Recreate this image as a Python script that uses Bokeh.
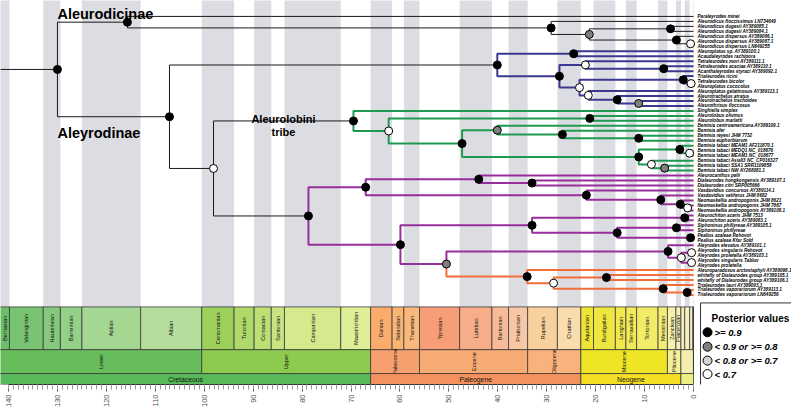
import math
from bokeh.plotting import figure
from bokeh.models import Range1d, FixedTicker, ColumnDataSource
from bokeh.core.properties import value
from bokeh.embed import file_html
from bokeh.resources import INLINE

# ---------------- data ----------------
tip_names = [
    "Paraleyrodes minei",
    "Aleurodicus floccissimus LN734649",
    "Aleurodicus dugesii AY389085.1",
    "Aleurodicus dugesii AY389084.1",
    "Aleurodicus dispersus AY389086.1",
    "Aleurodicus dispersus AY389087.1",
    "Aleurodicus dispersus LN649255",
    "Aleuroplatus sp. AY389100.1",
    "Acaudaleyrodes rachipora",
    "Tetraleurodes mori AY389111.1",
    "Tetraleurodes acaciae AY389110.1",
    "Acanthaleyrodes styraci AY389092.1",
    "Trialeurodes ricini",
    "Tetraleurodes bicolor",
    "Aleuroplatus cococolus",
    "Aleuroplatus gelatinosus AY389113.1",
    "Aleurotrachelus atratus",
    "Aleurotrachelus trachoides",
    "Aleurothrixus floccosus",
    "Singhiella simplex",
    "Aleurolobus olivinus",
    "Aleurolobus marlatti",
    "Bemisia centroamericana AY389109.1",
    "Bemisia afer",
    "Bemisia reyesi JHM 7732",
    "Bemisia euphorbiarum",
    "Bemisia tabaci MEAM1 AF211870.1",
    "Bemisia tabaci MEDQ1 NC_018676",
    "Bemisia tabaci MEAM1 NC_018677",
    "Bemisia tabaci AsiaII3 NC_CP016327",
    "Bemisia tabaci SSA1 SRR1109858",
    "Bemisia tabaci NW AY268081.1",
    "Aleurocanthus pelii",
    "Dialeurodes hongkongensis AY389107.1",
    "Dialeurodes citri SRP005666",
    "Vasdavidius concursus AY389114.1",
    "Vasdavidius setiferus JHM 8682",
    "Neomaskellia andropogonis JHM 8621",
    "Neomaskellia andropogonis JHM 7867",
    "Neomaskellia andropogonis AY389108.1",
    "Aleurochiton aceris JHM 7513",
    "Aleurochiton aceris AY389083.1",
    "Siphoninus phillyreae AY389105.1",
    "Siphoninus phillyreae",
    "Pealius azaleae Rehovot",
    "Pealius azaleae Kfar Sold",
    "Aleyrodes elevatus AY389101.1",
    "Aleyrodes singularis Rehovot",
    "Aleyrodes proletella AY389103.1",
    "Aleyrodes singularis Tabluv",
    "Aleyrodes proletella",
    "Aleuroparadoxus arctostaphyli AY389098.1",
    "whitefly of Dialeurodes group AY389105.1",
    "whitefly of Dialeurodes group AY389106.1",
    "Trialeurodes lauri AY389093.1",
    "Trialeurodes vaporariorum AY389113.1",
    "Trialeurodes vaporariorum LN649256",
]

# internal nodes: id, children (tip index or node id), age (Ma), posterior class
node_ids = ["root", "Aleurodicinae", "B", "C", "D", "E", "F",
            "Aleyrodinae", "Bl0", "Bl1", "Bl2", "Bl3", "Bl4", "Bl5", "Bl6", "Bl7", "Bl8", "Bl9", "Bl10",
            "N98", "Gr0", "Gr1", "Gr2", "Gr3", "Gr4", "Gr5", "Gr6", "Gr7", "Gr8", "Gr9", "Gr10", "Gr11",
            "Pu0", "Pu1", "Pu2", "Pu3", "Pu4", "Pu5", "Pu6", "Pu7", "Pu8", "Pu9", "Pu10", "Pu11", "Pu12",
            "Pu13", "Pu14", "Pu15", "Pu16", "Pu17", "Pu18", "Or0", "Or1", "Or2", "Or3", "Or4"]
node_kids = [("Aleurodicinae", "Aleyrodinae"), (0, "B"), (1, "C"), ("D", "E"), (2, 3), (4, "F"), (5, 6),
             ("Bl0", "N98"), ("Bl1", "Bl2"), (7, 8), ("Bl3", "Bl5"), (9, "Bl4"), (10, 11), ("Bl6", "Bl8"),
             (12, "Bl7"), (13, 14), (15, "Bl9"), (16, "Bl10"), (17, 18),
             ("Gr0", "Pu0"), (19, "Gr1"), ("Gr2", "Gr3"), (20, 21), ("Gr4", "Gr7"), (22, "Gr5"), (23, "Gr6"),
             (24, 25), ("Gr8", "Gr10"), (26, "Gr9"), (27, 28), (29, "Gr11"), (30, 31),
             ("Pu1", "Pu8"), ("Pu2", "Pu4"), (32, "Pu3"), (33, 34), (35, "Pu5"), (36, "Pu6"), (37, "Pu7"),
             (38, 39), ("Pu9", "Pu14"), ("Pu10", "Pu11"), (40, 41), ("Pu12", "Pu13"), (42, 43), (44, 45),
             ("Pu15", "Or0"), (46, "Pu16"), ("Pu17", "Pu18"), (47, 48), (49, 50),
             (51, "Or1"), ("Or2", "Or3"), (52, 53), (54, "Or4"), (55, 56)]
node_age = [130.0, 115.7, 29.1, 21.3, 4.7, 3.5, 0.6,
            107.1, 40.1, 24.5, 27.4, 22.1, 6.1, 23.3, 2.1, 0.5, 21.5, 15.6, 11.2,
            98.1, 69.5, 62.3, 21.2, 47.3, 40.1, 26.8, 11.2, 11.2, 2.8, 0.8, 8.6, 5.9,
            78.7, 67.0, 43.9, 33.0, 21.9, 6.7, 2.7, 1.2, 59.9, 33.0, 1.8, 15.6, 3.5,
            0.6, 50.5, 5.2, 2.5, 0.4, 0.4, 34.0, 28.6, 17.8, 6.2, 1.3]
node_post = [0, 0, 0, 1, 0, 0, 3,
             0, 0, 0, 0, 3, 0, 3, 0, 3, 3, 0, 1,
             3, 0, 3, 0, 0, 1, 0, 0, 0, 0, 3, 3, 1,
             0, 0, 0, 0, 0, 0, 0, 3, 0, 0, 0, 0, 0,
             0, 1, 0, 3, 3, 3, 0, 3, 0, 0, 0]

post_labels = [">= 0.9", "< 0.9 or >= 0.8", "< 0.8 or >= 0.7", "< 0.7"]
post_fills = ["#000000", "#808080", "#D3D3D3", "#FFFFFF"]

clade_roots = ["Bl0", "Gr0", "Pu0", "Or0"]
clade_colors = ["#3B3890", "#1E9A50", "#982E9C", "#F26D3A"]
clade_with_stem = [False, False, False, True]

clade_text = ["Aleurodicinae", "Aleyrodinae", "Aleurolobini", "tribe"]

stage_names = ["Berriasian", "Valanginian", "Hauterivian", "Barremian", "Aptian", "Albian",
               "Cenomanian", "Turonian", "Coniacian", "Santonian", "Campanian", "Maastrichtian",
               "Danian", "Selandian", "Thanetian", "Ypresian", "Lutetian", "Bartonian", "Priabonian",
               "Rupelian", "Chattian", "Aquitanian", "Burdigalian", "Langhian", "Serravallian",
               "Tortonian", "Messinian", "Zanclean", "Piacenzian", "", "", "", "", ""]
stage_base = [145.0, 139.8, 132.9, 129.4, 125.0, 113.0, 100.5, 93.9, 89.8, 86.3, 83.6, 72.1,
              66.0, 61.6, 59.2, 56.0, 47.8, 41.2, 37.8, 33.9, 27.82, 23.03, 20.44, 15.97, 13.82,
              11.63, 7.246, 5.333, 3.6, 2.58, 1.8, 0.781, 0.126, 0.0117]
stage_colors = ["#6CBF68", "#79C472", "#85CA7C", "#93D088", "#A4D791", "#B5DE9C",
                "#9ED05C", "#AFD96B", "#BCDF76", "#C8E582", "#D4EA8C", "#DFEF98",
                "#F9AC6C", "#F9B672", "#F9B97C", "#F79D78", "#F7AD88", "#F7BB97", "#F8C7A6",
                "#F9D19F", "#FADDAF", "#EEE534", "#EFE740", "#F0E84C", "#F1EA5A",
                "#F2EC68", "#F3ED76", "#F5F0AE", "#F6F1BC", "#F6EDB8", "#F6EFC0", "#F7F1C8", "#F7F3D0", "#F8F0E4"]

epoch_names = ["Lower", "Upper", "Paleocene", "Eocene", "Oligocene", "Miocene", "Pliocene", "", ""]
epoch_base = [145.0, 100.5, 66.0, 56.0, 33.9, 23.03, 5.333, 2.58, 0.0117]
epoch_colors = ["#67BC5C", "#8CCB4E", "#F6A06E", "#F8AC74", "#F9B27C", "#EDE526", "#F4F098", "#F5EDB0", "#F8F0E4"]

period_names = ["Cretaceous", "Paleogene", "Neogene", ""]
period_base = [145.0, 66.0, 23.03, 2.58]
period_colors = ["#58B95A", "#F5915C", "#F4DF24", "#EEEE86"]

# ---------------- layout ----------------
PX_PER_MA = 4.893
FIG_W, FIG_H = 791, 410
X_LEFT = 140.0 + 8.0 / PX_PER_MA
x_right = X_LEFT - FIG_W / PX_PER_MA
TIP0, TIP_STEP = 16.0, 5.0


def ry(ref_px):
    return (ref_px - TIP0) / TIP_STEP


def px_ma(page_px):
    return (693.0 - page_px) / PX_PER_MA


FONT = value("Liberation Sans")

p = figure(width=FIG_W, height=FIG_H, x_range=Range1d(X_LEFT, x_right),
           y_range=Range1d(ry(386), ry(0)), output_backend="svg", toolbar_location=None,
           min_border_left=0, min_border_right=0, min_border_top=0, min_border_bottom=24,
           y_axis_location=None)
p.xgrid.grid_line_color = None
p.ygrid.grid_line_color = None
p.outline_line_color = None
p.background_fill_color = "white"
p.border_fill_color = "white"

stage_top = stage_base[1:] + [0.0]
epoch_top = epoch_base[1:] + [0.0]
period_top = period_base[1:] + [0.0]

# gray stage bands
band = dict(l=[], r=[])
for i, (b, t) in enumerate(zip(stage_base, stage_top)):
    if i % 2 == 0:
        band["l"].append(b)
        band["r"].append(t)
p.quad(left="l", right="r", top=ry(-20), bottom=ry(308), source=ColumnDataSource(band),
       fill_color="#DCDDE2", line_color=None)

# ---------------- tree ----------------
kids = dict(zip(node_ids, node_kids))
agemap = dict(zip(node_ids, node_age))


def nx(n):
    return 0.0 if isinstance(n, int) else agemap[n]


def ny(n):
    if isinstance(n, int):
        return float(n)
    a, b = kids[n]
    return (ny(a) + ny(b)) / 2.0


def desc(n):
    out = []
    if isinstance(n, int):
        return out
    for c in kids[n]:
        out.append(c)
        out.extend(desc(c))
    return out


edge_color = {}
for r, col, stem in zip(clade_roots, clade_colors, clade_with_stem):
    for d in desc(r):
        edge_color[d] = col
    if stem:
        edge_color[r] = col

blk = dict(xs=[], ys=[])
col = dict(xs=[], ys=[], c=[])
# root stem
blk["xs"].append([X_LEFT + 5, nx("root")])
blk["ys"].append([ny("root"), ny("root")])
for n in node_ids:
    for c in kids[n]:
        xs = [nx(n), nx(n), nx(c)]
        ys = [ny(n), ny(c), ny(c)]
        if c in edge_color:
            col["xs"].append(xs)
            col["ys"].append(ys)
            col["c"].append(edge_color[c])
        else:
            blk["xs"].append(xs)
            blk["ys"].append(ys)
p.multi_line(xs="xs", ys="ys", source=ColumnDataSource(blk), line_color="#1a1a1a", line_width=1)
p.multi_line(xs="xs", ys="ys", source=ColumnDataSource(col), line_color="c", line_width=2)

nd = dict(x=[agemap[n] for n in node_ids], y=[ny(n) for n in node_ids],
          f=[post_fills[k] for k in node_post])
p.scatter(x="x", y="y", source=ColumnDataSource(nd), size=8, fill_color="f",
          line_color="black", line_width=1)

# tip labels
tl = dict(x=[0.0] * len(tip_names), y=list(range(len(tip_names))), t=tip_names)
p.text(x="x", y="y", text="t", source=ColumnDataSource(tl), x_offset=4,
       text_font=FONT, text_font_style="bold italic", text_font_size="4.6px",
       text_baseline="middle", text_align="left", text_color="black")

# clade labels
p.text(x=[agemap["root"]], y=[ny("Aleurodicinae") - 1.6], text=[clade_text[0]], text_font=FONT,
       text_font_style="bold", text_font_size="14.5px", text_baseline="alphabetic", text_align="left")
p.text(x=[agemap["root"]], y=[ny("Aleyrodinae") + 3.3], text=[clade_text[1]], text_font=FONT,
       text_font_style="bold", text_font_size="14.5px", text_baseline="alphabetic", text_align="left")
gx = agemap["Gr0"] + 14.3
p.text(x=[gx, gx], y=[ny("Gr0") - 0.35, ny("Gr0") + 2.32], text=clade_text[2:], text_font=FONT,
       text_font_style="bold", text_font_size="11px", text_baseline="alphabetic", text_align="center")

# ---------------- geologic time scale ----------------
def clip_mid(b, t):
    return (min(b, X_LEFT) + t) / 2.0


rows = [(stage_names, stage_base, stage_top, stage_colors, 308, 351, "5.6px", math.pi / 2),
        (epoch_names, epoch_base, epoch_top, epoch_colors, 351, 375, "5.6px", math.pi / 2),
        (period_names, period_base, period_top, period_colors, 375, 386, "6.8px", 0.0)]
for names, base, top, colors, y0, y1, fs, ang in rows:
    src = ColumnDataSource(dict(l=base, r=top, c=colors))
    p.quad(left="l", right="r", top=ry(y0), bottom=ry(y1), source=src, fill_color="c",
           line_color="#3a3a3a", line_width=0.8)
    lab = dict(x=[clip_mid(b, t) for b, t in zip(base, top)], t=names)
    ly = ry((y0 + y1) / 2.0 + (0.4 if ang == 0 else 0.0))
    p.text(x="x", y=ly, text="t", source=ColumnDataSource(lab), angle=ang,
           text_font=FONT, text_font_size=fs, text_align="center", text_baseline="middle",
           text_color="#111111")

# ---------------- legend (posterior values) ----------------
p.quad(left=px_ma(700), right=x_right - 10, top=ry(304), bottom=ry(400),
       fill_color="white", line_color="#333333", line_width=1)
p.text(x=[px_ma(711)], y=[ry(320)], text=["Posterior values"], text_font=FONT,
       text_font_style="bold", text_font_size="10px", text_baseline="middle", text_align="left")
leg_y = [ry(v) for v in (333.5, 348.0, 362.0, 375.5)]
p.scatter(x=[px_ma(707)] * 4, y=leg_y, size=9, fill_color=post_fills, line_color="black", line_width=1)
p.text(x=[px_ma(714)] * 4, y=leg_y, text=post_labels, text_font=FONT, text_font_style="bold italic",
       text_font_size="9.5px", text_baseline="middle", text_align="left")

# ---------------- axis ----------------
ax = p.xaxis[0]
ax.ticker = FixedTicker(ticks=list(range(0, 141, 10)), minor_ticks=list(range(0, 141, 1)))
ax.bounds = (0, 140)
ax.major_label_orientation = math.pi / 2
ax.major_label_text_font = "Liberation Sans"
ax.major_label_text_font_size = "7.5px"
ax.major_label_text_color = "#4D4D4D"
ax.major_label_standoff = 3
ax.axis_line_color = "#333333"
ax.axis_line_width = 1
ax.major_tick_line_color = "#555555"
ax.minor_tick_line_color = "#9A9A9A"
ax.major_tick_out = 7
ax.major_tick_in = 0
ax.minor_tick_out = 5
ax.minor_tick_in = 0

open("out.html", "w").write(file_html(p, INLINE))
